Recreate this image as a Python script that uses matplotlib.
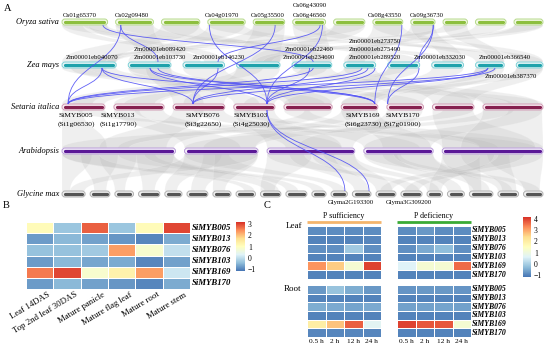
import numpy as np
import matplotlib
matplotlib.use("Agg")
import matplotlib.pyplot as plt
from matplotlib.patches import FancyBboxPatch, PathPatch
from matplotlib.path import Path
from matplotlib.colors import LinearSegmentedColormap, Normalize

plt.rcParams['font.family'] = ['Liberation Serif', 'DejaVu Serif']

# ======================= DATA =======================
species = ['Oryza sativa', 'Zea mays', 'Setaria italica', 'Arabidopsis', 'Glycine max']
os_chr_len = [43.3, 35.9, 36.4, 35.5, 29.9, 31.2, 29.7, 28.4, 23.0, 23.2, 29.0, 27.5]
zm_chr_len = [308, 243, 236, 247, 226, 181, 182, 181, 163, 152]
si_chr_len = [42.1, 49.2, 50.7, 40.4, 47.3, 36.0, 35.9, 40.7, 58.9]
at_chr_len = [30.4, 19.7, 23.5, 18.6, 27.0]
gm_chr_len = [56.8, 48.6, 45.8, 52.4, 42.2, 51.4, 44.6, 47.8, 50.2, 51.6,
              34.8, 40.1, 45.9, 49.0, 51.8, 37.9, 41.6, 58.0, 50.6, 47.9]

os_gene_names = ['Os01g65370', 'Os02g09480', 'Os04g01970', 'Os05g35500',
                 'Os06g43090', 'Os06g46560', 'Os08g43550', 'Os09g36730']
os_gene_chr = [1, 2, 4, 5, 6, 6, 8, 9]
os_gene_pos = [38.9, 4.9, 1.5, 20.8, 26.0, 28.2, 27.5, 21.3]

zm_gene_names = ['Zm00001eb040070', 'Zm00001eb089420', 'Zm00001eb103730', 'Zm00001eb146230',
                 'Zm00001eb22460', 'Zm00001eb234690', 'Zm00001eb273750', 'Zm00001eb275490',
                 'Zm00001eb289520', 'Zm00001eb332030', 'Zm00001eb366540', 'Zm00001eb387370']
zm_gene_chr = [1, 2, 2, 3, 5, 5, 6, 6, 6, 7, 9, 9]
zm_gene_pos = [227, 124, 169, 199, 100, 120, 103, 137, 177, 178, 70, 110]

si_gene_names = ['SiMYB005', 'SiMYB013', 'SiMYB076', 'SiMYB103', 'SiMYB169', 'SiMYB170']
si_gene_ids = ['(Si1g06530)', '(Si1g17790)', '(Si3g22650)', '(Si4g25030)', '(Si6g23730)', '(Si7g01900)']
si_gene_chr = [1, 1, 3, 4, 6, 7]
si_gene_pos = [6.0, 17.8, 19.5, 32.6, 33.0, 0.8]

gm_gene_names = ['Glyma2G193300', 'Glyma3G309200']
gm_gene_chr = [12, 13]
gm_gene_pos = [34.0, 41.0]

# orthologous gene links (source gene, target gene)
gene_links = [
    ('Os02g09480', 'SiMYB005'), ('Os04g01970', 'SiMYB103'), ('Os05g35500', 'SiMYB076'),
    ('Os06g46560', 'SiMYB103'), ('Os08g43550', 'SiMYB169'), ('Os09g36730', 'SiMYB170'),
    ('Os01g65370', 'Zm00001eb234690'), ('Os02g09480', 'Zm00001eb103730'),
    ('Os06g43090', 'Zm00001eb146230'), ('Os09g36730', 'Zm00001eb332030'),
    ('Zm00001eb040070', 'SiMYB005'), ('Zm00001eb040070', 'SiMYB076'),
    ('Zm00001eb040070', 'SiMYB169'), ('Zm00001eb089420', 'SiMYB103'),
    ('Zm00001eb089420', 'SiMYB169'), ('Zm00001eb103730', 'SiMYB169'),
    ('Zm00001eb146230', 'SiMYB076'), ('Zm00001eb22460', 'SiMYB103'),
    ('Zm00001eb234690', 'SiMYB005'), ('Zm00001eb273750', 'SiMYB005'),
    ('Zm00001eb275490', 'SiMYB076'), ('Zm00001eb289520', 'SiMYB103'),
    ('Zm00001eb332030', 'SiMYB170'), ('Zm00001eb366540', 'SiMYB005'),
    ('Zm00001eb366540', 'SiMYB103'), ('Zm00001eb387370', 'SiMYB076'),
    ('SiMYB103', 'Glyma2G193300'), ('SiMYB103', 'Glyma3G309200'),
]

# background syntenic blocks: (chrA, startA, endA, chrB, startB, endB) in Mb
os_zm_blocks = [
    (1, 0, 20, 3, 0, 100), (1, 20, 43, 8, 60, 181), (1, 0, 25, 8, 0, 60), (1, 25, 43, 3, 120, 236),
    (2, 0, 36, 7, 0, 182), (2, 0, 36, 2, 100, 243), (3, 0, 36, 1, 0, 308), (3, 0, 36, 5, 0, 226),
    (4, 0, 35, 2, 0, 100), (4, 0, 35, 10, 0, 152), (5, 0, 30, 4, 0, 247), (5, 0, 30, 2, 150, 243),
    (6, 0, 31, 5, 80, 226), (6, 0, 31, 9, 0, 163), (7, 0, 30, 4, 80, 247), (7, 0, 30, 1, 200, 308),
    (8, 0, 28, 10, 20, 152), (8, 0, 28, 6, 20, 181), (9, 0, 23, 6, 0, 120), (9, 0, 23, 8, 60, 181),
    (10, 0, 23, 1, 150, 250), (10, 0, 23, 9, 80, 163), (11, 0, 29, 4, 100, 200),
    (12, 0, 27.5, 1, 250, 308), (12, 0, 27.5, 4, 150, 247),
]
zm_si_blocks = [
    (1, 0, 150, 9, 0, 30), (1, 150, 308, 9, 25, 58.9), (1, 50, 250, 5, 0, 40), (2, 0, 120, 4, 0, 25),
    (2, 100, 243, 3, 0, 30), (3, 0, 236, 5, 5, 47), (4, 0, 247, 3, 10, 50), (4, 0, 150, 1, 0, 30),
    (5, 0, 226, 9, 0, 55), (5, 50, 200, 2, 0, 40), (6, 0, 181, 8, 0, 40), (6, 0, 100, 2, 10, 45),
    (7, 0, 182, 4, 10, 40), (7, 0, 120, 1, 10, 42), (8, 0, 181, 5, 0, 47), (9, 0, 163, 7, 0, 35),
    (9, 0, 120, 6, 0, 30), (10, 0, 152, 8, 5, 40), (10, 0, 152, 6, 0, 36), (2, 0, 243, 7, 0, 35),
]
si_at_blocks = [
    (1, 0, 20, 1, 0, 12), (1, 15, 42, 5, 10, 25), (2, 0, 25, 2, 0, 15), (2, 20, 49, 3, 5, 20),
    (3, 0, 30, 1, 10, 28), (3, 20, 50, 4, 0, 15), (4, 0, 40, 3, 0, 20), (4, 0, 20, 5, 0, 15),
    (5, 0, 25, 5, 10, 27), (5, 20, 47, 1, 15, 30), (6, 0, 36, 4, 5, 18), (6, 0, 20, 2, 5, 19),
    (7, 0, 35, 3, 8, 23), (8, 0, 40, 5, 0, 25), (8, 10, 40, 1, 0, 18), (9, 0, 30, 2, 0, 19),
    (9, 25, 58, 4, 0, 18), (9, 0, 58, 5, 5, 27),
]
at_gm_blocks = [
    (1, 0, 8, 1, 0, 20), (1, 5, 15, 2, 10, 40), (1, 10, 20, 3, 0, 25), (1, 15, 25, 11, 0, 30),
    (1, 20, 30, 4, 10, 40), (1, 0, 10, 8, 20, 45), (1, 22, 30, 10, 0, 30), (2, 0, 10, 5, 0, 30),
    (2, 5, 19.7, 6, 10, 45), (2, 0, 12, 12, 5, 35), (2, 8, 19.7, 7, 0, 30), (3, 0, 12, 9, 0, 35),
    (3, 6, 18, 13, 5, 40), (3, 12, 23.5, 14, 0, 40), (3, 0, 10, 15, 10, 45), (3, 15, 23.5, 16, 0, 30),
    (4, 0, 9, 17, 0, 35), (4, 5, 18.6, 18, 10, 50), (4, 0, 10, 20, 5, 40), (4, 8, 18.6, 19, 0, 35),
    (5, 0, 10, 18, 0, 30), (5, 5, 18, 19, 10, 45), (5, 12, 27, 20, 0, 40), (5, 0, 14, 16, 5, 35),
    (5, 15, 27, 15, 10, 45), (5, 10, 22, 14, 10, 40), (1, 0, 30, 9, 10, 45), (2, 0, 19.7, 1, 20, 56),
]

# panel B
b_genes = ['SiMYB005', 'SiMYB013', 'SiMYB076', 'SiMYB103', 'SiMYB169', 'SiMYB170']
b_tissues = ['Leaf 14DAS', 'Top 2nd leaf 30DAS', 'Mature panicle', 'Mature flag leaf',
             'Mature root', 'Mature stem']
b_values = [
    [1.1, -0.35, 2.8, -0.35, 1.1, 3.0],
    [-0.8, -0.5, -0.75, -0.85, -1.0, -0.65],
    [-0.4, -0.4, -0.3, 2.3, 0.8, 0.0],
    [-0.8, -0.5, -0.7, -0.65, -1.0, -0.75],
    [2.6, 3.0, 0.8, 1.3, 2.3, 0.1],
    [-0.8, -0.5, -0.75, -0.85, -1.0, -0.65],
]

# panel C
c_genes = b_genes
c_times = ['0.5 h', '2 h', '12 h', '24 h']
leaf_suff = [[-0.9, -0.9, -0.9, -0.9], [-1, -1, -1, -0.95], [-0.85, -0.85, -0.1, -0.85],
             [-1, -1, -1, -1], [3.2, 2.6, 1.2, 4.0], [-1, -1, -1, -1]]
leaf_def = [[-0.9, -0.75, -0.9, -0.9], [-1, -1, -1, -1], [-0.85, -0.55, -0.3, -0.85],
            [-1, -1, -1, -1], [0.6, 1.2, 1.2, 3.6], [-1, -1, -1, -1]]
root_suff = [[-0.75, -0.2, -0.5, -0.75], [-1, -1, -1, -1], [-0.5, -0.55, -0.6, -0.55],
             [-1, -1, -1, -1], [2.0, 2.7, 3.7, 0.7], [-0.95, -0.95, -0.95, -0.95]]
root_def = [[-0.8, -0.75, -0.75, -0.8], [-1, -1, -1, -1], [-0.65, -0.65, -0.6, -0.65],
            [-1, -1, -1, -1], [4.0, 3.8, 3.8, 1.2], [-1, -1, -1, -1]]

# ======================= STYLE / LAYOUT =======================
W, H = 550, 351
fig = plt.figure(figsize=(W / 100, H / 100), dpi=100)
axA = fig.add_axes([0, 0, 1, 1])
axA.set_xlim(0, W)
axA.set_ylim(H, 0)
axA.axis('off')

X0, X1 = 62, 543
row_y = {'os': 22, 'zm': 65, 'si': 107, 'at': 151, 'gm': 194}
gaps = {'os': 8, 'zm': 12, 'si': 9, 'at': 9, 'gm': 5}
lens = {'os': os_chr_len, 'zm': zm_chr_len, 'si': si_chr_len, 'at': at_chr_len, 'gm': gm_chr_len}
colors = {
    'os': ('#8dbf3f', '#f3f9e6', '#b5d98a'),
    'zm': ('#1fa2ab', '#e6f6f7', '#7fd0d6'),
    'si': ('#86204f', '#f9ecf2', '#cf98b2'),
    'at': ('#5a1896', '#f4eefb', '#b79ad6'),
    'gm': ('#555555', '#efefef', '#b0b0b0'),
}


def layout(lengths, gap):
    n = len(lengths)
    scale = (X1 - X0 - gap * (n - 1)) / sum(lengths)
    starts, s = [], X0
    for L in lengths:
        starts.append(s)
        s += L * scale + gap
    return starts, scale


lay = {k: layout(lens[k], gaps[k]) for k in lens}


def xpos(sp, chrom, pos):
    starts, scale = lay[sp]
    return starts[chrom - 1] + pos * scale


gene_x, gene_sp = {}, {}
for sp, names, chs, poss in [('os', os_gene_names, os_gene_chr, os_gene_pos),
                             ('zm', zm_gene_names, zm_gene_chr, zm_gene_pos),
                             ('si', si_gene_names, si_gene_chr, si_gene_pos),
                             ('gm', gm_gene_names, gm_gene_chr, gm_gene_pos)]:
    for n, c, p in zip(names, chs, poss):
        gene_x[n] = xpos(sp, c, p)
        gene_sp[n] = sp

HALF = 3.0


def ribbon(spa, spb, blocks):
    yt = row_y[spa] + HALF
    yb = row_y[spb] - HALF
    ym = (yt + yb) / 2
    for ca, a1, a2, cb, b1, b2 in blocks:
        xa1, xa2 = xpos(spa, ca, a1), xpos(spa, ca, a2)
        xb1, xb2 = xpos(spb, cb, b1), xpos(spb, cb, b2)
        verts = [(xa1, yt), (xa2, yt), (xa2, ym), (xb2, ym), (xb2, yb), (xb1, yb),
                 (xb1, ym), (xa1, ym), (xa1, yt), (xa1, yt)]
        codes = [Path.MOVETO, Path.LINETO, Path.CURVE4, Path.CURVE4, Path.CURVE4,
                 Path.LINETO, Path.CURVE4, Path.CURVE4, Path.CURVE4, Path.CLOSEPOLY]
        axA.add_patch(PathPatch(Path(verts, codes), facecolor='#b8b8b8', alpha=0.22,
                                edgecolor='white', lw=0.5, zorder=1))


ribbon('os', 'zm', os_zm_blocks)
ribbon('zm', 'si', zm_si_blocks)
ribbon('si', 'at', si_at_blocks)
ribbon('at', 'gm', at_gm_blocks)

# chromosomes
for sp in ['os', 'zm', 'si', 'at', 'gm']:
    starts, scale = lay[sp]
    inner, face, edge = colors[sp]
    y = row_y[sp]
    for s, L in zip(starts, lens[sp]):
        e = s + L * scale
        axA.add_patch(FancyBboxPatch((s, y - HALF), e - s, 2 * HALF,
                                     boxstyle='round,pad=0,rounding_size=3',
                                     facecolor=face, edgecolor=edge, lw=0.7, zorder=3))
        axA.plot([s + 3.2, e - 3.2], [y, y], color=inner, lw=2.3, solid_capstyle='round', zorder=4)

# gene links
for g1, g2 in gene_links:
    s1, s2 = gene_sp[g1], gene_sp[g2]
    x1, x2 = gene_x[g1], gene_x[g2]
    y1 = row_y[s1] + HALF
    y2 = row_y[s2] - HALF
    ym = (y1 + y2) / 2
    p = Path([(x1, y1), (x1, ym), (x2, ym), (x2, y2)],
             [Path.MOVETO, Path.CURVE4, Path.CURVE4, Path.CURVE4])
    axA.add_patch(PathPatch(p, facecolor='none', edgecolor='#5050f5', lw=0.6, alpha=0.9, zorder=5))

# species labels
for sp, name in zip(['os', 'zm', 'si', 'at', 'gm'], species):
    axA.text(59, row_y[sp], name, ha='right', va='center', style='italic', fontsize=6.0, zorder=6)

GFS = 4.8
# Oryza labels: (stack top->bottom, x offset from last gene)
os_label_stacks = [(['Os01g65370'], -23), (['Os02g09480'], 11), (['Os04g01970'], 13),
                   (['Os05g35500'], -7), (['Os06g43090', 'Os06g46560'], -13),
                   (['Os08g43550'], -17), (['Os09g36730'], -6)]
for stack, dx in os_label_stacks:
    xc = gene_x[stack[-1]] + dx
    for k, nm in enumerate(reversed(stack)):
        axA.text(xc, row_y['os'] - 7 - 9.5 * k, nm, ha='center', va='center', fontsize=GFS, zorder=6)

zm_label_stacks = [(['Zm00001eb040070'], -10), (['Zm00001eb089420', 'Zm00001eb103730'], 2),
                   (['Zm00001eb146230'], 1), (['Zm00001eb22460', 'Zm00001eb234690'], -4),
                   (['Zm00001eb273750', 'Zm00001eb275490', 'Zm00001eb289520'], 0),
                   (['Zm00001eb332030'], 21), (['Zm00001eb366540'], 17)]
for stack, dx in zm_label_stacks:
    xc = gene_x[stack[-1]] + dx
    for k, nm in enumerate(reversed(stack)):
        axA.text(xc, row_y['zm'] - 7.5 - 8 * k, nm, ha='center', va='center', fontsize=GFS, zorder=6)
axA.text(gene_x['Zm00001eb387370'] + 16, row_y['zm'] + 11, 'Zm00001eb387370',
         ha='center', va='center', fontsize=GFS, zorder=6)

si_label_dx = [8, 38, 10, -16, -12, 15]
for nm, gid, dx in zip(si_gene_names, si_gene_ids, si_label_dx):
    xc = gene_x[nm] + dx
    axA.text(xc, row_y['si'] + 8.5, nm, ha='center', va='center', fontsize=5.4, zorder=6)
    axA.text(xc, row_y['si'] + 17, gid, ha='center', va='center', fontsize=5.4, zorder=6)

gm_label_dx = [6, 40]
for nm, dx in zip(gm_gene_names, gm_label_dx):
    axA.text(gene_x[nm] + dx, row_y['gm'] + 8.5, nm, ha='center', va='center', fontsize=GFS, zorder=6)

for lab, (x, y) in {'A': (8, 8.5), 'B': (6.5, 205), 'C': (267, 205)}.items():
    axA.text(x, y, lab, ha='center', va='center', fontsize=7.5, zorder=6)

# ---------- heatmaps ----------
cmap = LinearSegmentedColormap.from_list(
    'ph', ['#4575B4', '#91BFDB', '#E0F3F8', '#FFFFBF', '#FEE090', '#FC8D59', '#D73027'])


def px_axes(x0, y0, x1, y1):
    return fig.add_axes([x0 / W, 1 - y1 / H, (x1 - x0) / W, (y1 - y0) / H])


def heat(ax, vals, norm):
    v = np.array(vals, dtype=float)
    m = ax.pcolormesh(v, cmap=cmap, norm=norm, edgecolors='white', linewidth=0.5)
    ax.set_xlim(0, v.shape[1])
    ax.set_ylim(v.shape[0], 0)
    ax.set_xticks([])
    ax.set_yticks([])
    for s in ax.spines.values():
        s.set_visible(False)
    return m


# panel B
normB = Normalize(vmin=-1.18, vmax=3.18)
axB = px_axes(26, 222, 190, 289)
mB = heat(axB, b_values, normB)
for i, g in enumerate(b_genes):
    axB.text(6.08, i + 0.5, g, ha='left', va='center', fontsize=6.3, style='italic', weight='bold')
for j, t in enumerate(b_tissues):
    axB.text(j + 0.78, 6.15, t, ha='right', va='top', rotation=31, rotation_mode='anchor', fontsize=6.3)
caxB = px_axes(236, 222, 245, 271)
cbB = fig.colorbar(mB, cax=caxB, ticks=[-1, 0, 1, 2, 3])
cbB.outline.set_visible(False)
cbB.ax.tick_params(length=0, labelsize=5.5, pad=2)
cbB.ax.set_yticklabels(['\u22121', '0', '1', '2', '3'])

# panel C
normC = Normalize(vmin=-1.18, vmax=4.18)
blocks = [(leaf_suff, 307, 381, 226, 279), (leaf_def, 397, 471, 226, 279),
          (root_suff, 307, 381, 285, 337), (root_def, 397, 471, 285, 337)]
axesC = []
for vals, x0, x1, y0, y1 in blocks:
    ax = px_axes(x0, y0, x1, y1)
    mC = heat(ax, vals, normC)
    axesC.append(ax)
for ax in (axesC[1], axesC[3]):
    for i, g in enumerate(c_genes):
        ax.text(4.03, i + 0.5, g, ha='left', va='center', fontsize=5.6, style='italic', weight='bold')
for ax in (axesC[2], axesC[3]):
    for j, t in enumerate(c_times):
        ax.text(j + 0.5, 6.2, t, ha='center', va='top', fontsize=5.3)

axA.text(294, 226, 'Leaf', ha='center', va='center', fontsize=6.5, zorder=6)
axA.text(293, 289, 'Root', ha='center', va='center', fontsize=6.5, zorder=6)
axA.text(344, 216.5, 'P sufficiency', ha='center', va='center', fontsize=5.7, zorder=6)
axA.text(434, 216.5, 'P deficiency', ha='center', va='center', fontsize=5.7, zorder=6)
axA.plot([307, 381], [222.3, 222.3], color='#f4b56c', lw=2.0, solid_capstyle='butt', zorder=6)
axA.plot([397, 471], [222.3, 222.3], color='#3aaa35', lw=2.0, solid_capstyle='butt', zorder=6)

caxC = px_axes(523, 217, 531, 277)
cbC = fig.colorbar(mC, cax=caxC, ticks=[-1, 0, 1, 2, 3, 4])
cbC.outline.set_visible(False)
cbC.ax.tick_params(length=0, labelsize=5.5, pad=2)
cbC.ax.set_yticklabels(['\u22121', '0', '1', '2', '3', '4'])

fig.savefig('out.png', dpi=100)
